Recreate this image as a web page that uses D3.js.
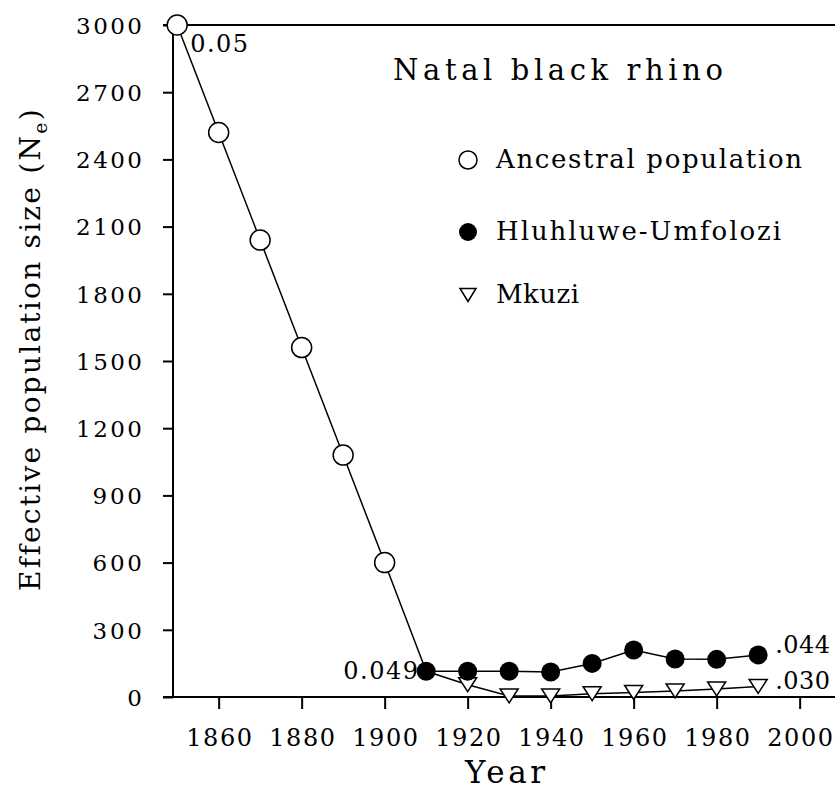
<!DOCTYPE html>
<html>
<head>
<meta charset="utf-8">
<script src="https://cdn.jsdelivr.net/npm/d3@7"></script>
<style>
  html, body { margin: 0; padding: 0; background: #fff; }
  svg { display: block; }
  text { font-family: "DejaVu Serif", "Liberation Serif", serif; fill: #000; }
</style>
</head>
<body>
<svg id="chart" width="835" height="789"></svg>
<script>
// ---- data ----
const ancestralYears = [1850, 1860, 1870, 1880, 1890, 1900];
const ancestralNe    = [3000, 2520, 2040, 1560, 1080, 600];
const huYears = [1910, 1920, 1930, 1940, 1950, 1960, 1970, 1980, 1990];
const huNe    = [115, 115, 115, 112, 150, 210, 170, 168, 188];
const mkYears = [1920, 1930, 1940, 1950, 1960, 1970, 1980, 1990];
const mkNe    = [55, 5, 5, 15, 20, 27, 36, 47];
const xTicks = [1860, 1880, 1900, 1920, 1940, 1960, 1980, 2000];
const yTicks = [0, 300, 600, 900, 1200, 1500, 1800, 2100, 2400, 2700, 3000];
const seriesNames = ["Ancestral population", "Hluhluwe-Umfolozi", "Mkuzi"];
const annotations = [
  { text: "0.05",  year: 1850, ne: 3000 },
  { text: "0.049", year: 1910, ne: 115 },
  { text: ".044",  year: 1990, ne: 188 },
  { text: ".030",  year: 1990, ne: 47 }
];
const titleText = "Natal black rhino";

// ---- layout ----
const W = 835, H = 789;
const svg = d3.select("#chart");
const x = d3.scaleLinear().domain([1849, 2010]).range([173, 173 + 161 * 4.15]);
const y = d3.scaleLinear().domain([0, 3000]).range([697, 25]);
const x0 = 173;

// axis frame lines
svg.append("line").attr("x1", x0 - 10).attr("x2", W).attr("y1", y(0)).attr("y2", y(0))
  .attr("stroke", "#000").attr("stroke-width", 2);
svg.append("line").attr("x1", x0 - 10).attr("x2", W).attr("y1", y(3000)).attr("y2", y(3000))
  .attr("stroke", "#000").attr("stroke-width", 1.8);
svg.append("line").attr("x1", x0).attr("x2", x0).attr("y1", y(0)).attr("y2", y(3000))
  .attr("stroke", "#000").attr("stroke-width", 2);

// y axis
const yAxis = svg.append("g").attr("transform", `translate(${x0},0)`)
  .call(d3.axisLeft(y).tickValues(yTicks).tickSize(10).tickPadding(21).tickFormat(d3.format("d")));
yAxis.select(".domain").remove();
yAxis.selectAll(".tick line").attr("stroke", "#000").attr("stroke-width", 2);
yAxis.selectAll(".tick text").attr("font-size", 23).attr("font-family", "DejaVu Serif")
  .attr("fill", "#000").attr("textLength", d => String(d).length * 16.5).attr("lengthAdjust", "spacing").attr("dy", "0.36em");

// x axis
const xAxis = svg.append("g").attr("transform", `translate(0,${y(0)})`)
  .call(d3.axisBottom(x).tickValues(xTicks).tickSize(12).tickPadding(20).tickFormat(d3.format("d")));
xAxis.select(".domain").remove();
xAxis.selectAll(".tick line").attr("stroke", "#000").attr("stroke-width", 2);
xAxis.selectAll(".tick text").attr("font-size", 24).attr("font-family", "DejaVu Serif")
  .attr("fill", "#000").attr("textLength", 66).attr("lengthAdjust", "spacing");

// axis titles
svg.append("text").attr("x", 505).attr("y", 783).attr("text-anchor", "middle")
  .attr("font-size", 31).attr("textLength", 80).attr("lengthAdjust", "spacing").text("Year");

const yl = svg.append("text").attr("transform", "translate(40,349) rotate(-90)")
  .attr("text-anchor", "middle").attr("font-size", 28);
yl.append("tspan").text("Effective population size (N");
yl.append("tspan").attr("font-size", 19).attr("dy", 7).text("e");
yl.append("tspan").attr("dy", -7).text(")");
(function fit() {
  const len = yl.node().getComputedTextLength();
  yl.attr("letter-spacing", (483 - len) / 30);
})();

// title
svg.append("text").attr("x", 393).attr("y", 80).attr("font-size", 29)
  .attr("textLength", 330).attr("lengthAdjust", "spacing").text(titleText);

// lines
const line = d3.line().x(d => x(d[0])).y(d => y(d[1]));
const ancPts = ancestralYears.map((yr, i) => [yr, ancestralNe[i]]).concat([[huYears[0], huNe[0]]]);
const huPts = huYears.map((yr, i) => [yr, huNe[i]]);
const mkPts = [[huYears[0], huNe[0]]].concat(mkYears.map((yr, i) => [yr, mkNe[i]]));
[ancPts, huPts, mkPts].forEach(p => {
  svg.append("path").attr("d", line(p)).attr("fill", "none").attr("stroke", "#000").attr("stroke-width", 1.5);
});

// markers
const triPath = (cx, cy, w, h) => `M${cx - w / 2},${cy - h / 2}L${cx + w / 2},${cy - h / 2}L${cx},${cy + h / 2}Z`;
svg.selectAll(".mk").data(mkPts.slice(1)).join("path").attr("class", "mk")
  .attr("d", d => triPath(x(d[0]), y(d[1]), 18, 14))
  .attr("fill", "#fff").attr("stroke", "#000").attr("stroke-width", 1.5);
svg.selectAll(".hu").data(huPts).join("circle").attr("class", "hu")
  .attr("cx", d => x(d[0])).attr("cy", d => y(d[1])).attr("r", 9.5).attr("fill", "#000");
svg.selectAll(".anc").data(ancPts.slice(0, ancestralYears.length)).join("circle").attr("class", "anc")
  .attr("cx", d => x(d[0])).attr("cy", d => y(d[1])).attr("r", 10)
  .attr("fill", "#fff").attr("stroke", "#000").attr("stroke-width", 1.5);

// annotations
const annOpts = [
  { dx: 13, dy: 27, anchor: "start", len: 58 },
  { dx: -8, dy: 8, anchor: "end", len: 75 },
  { dx: 17, dy: -2, anchor: "start", len: 55 },
  { dx: 17, dy: 3, anchor: "start", len: 55 }
];
annotations.forEach((a, i) => {
  const o = annOpts[i];
  svg.append("text").attr("x", x(a.year) + o.dx).attr("y", y(a.ne) + o.dy)
    .attr("text-anchor", o.anchor).attr("font-size", 24)
    .attr("textLength", o.len).attr("lengthAdjust", "spacing").text(a.text);
});

// legend
const legY = [160, 232, 295];
const legLen = [306, 285, 83];
const lg = svg.append("g");
lg.append("circle").attr("cx", 468).attr("cy", legY[0]).attr("r", 9).attr("fill", "#fff").attr("stroke", "#000").attr("stroke-width", 1.5);
lg.append("circle").attr("cx", 468).attr("cy", legY[1]).attr("r", 9).attr("fill", "#000");
lg.append("path").attr("d", triPath(468, legY[2], 16, 13)).attr("fill", "#fff").attr("stroke", "#000").attr("stroke-width", 1.5);
seriesNames.forEach((s, i) => {
  lg.append("text").attr("x", 496).attr("y", legY[i] + 8).attr("font-size", 26)
    .attr("textLength", legLen[i]).attr("lengthAdjust", "spacing").text(s);
});
</script>
</body>
</html>
